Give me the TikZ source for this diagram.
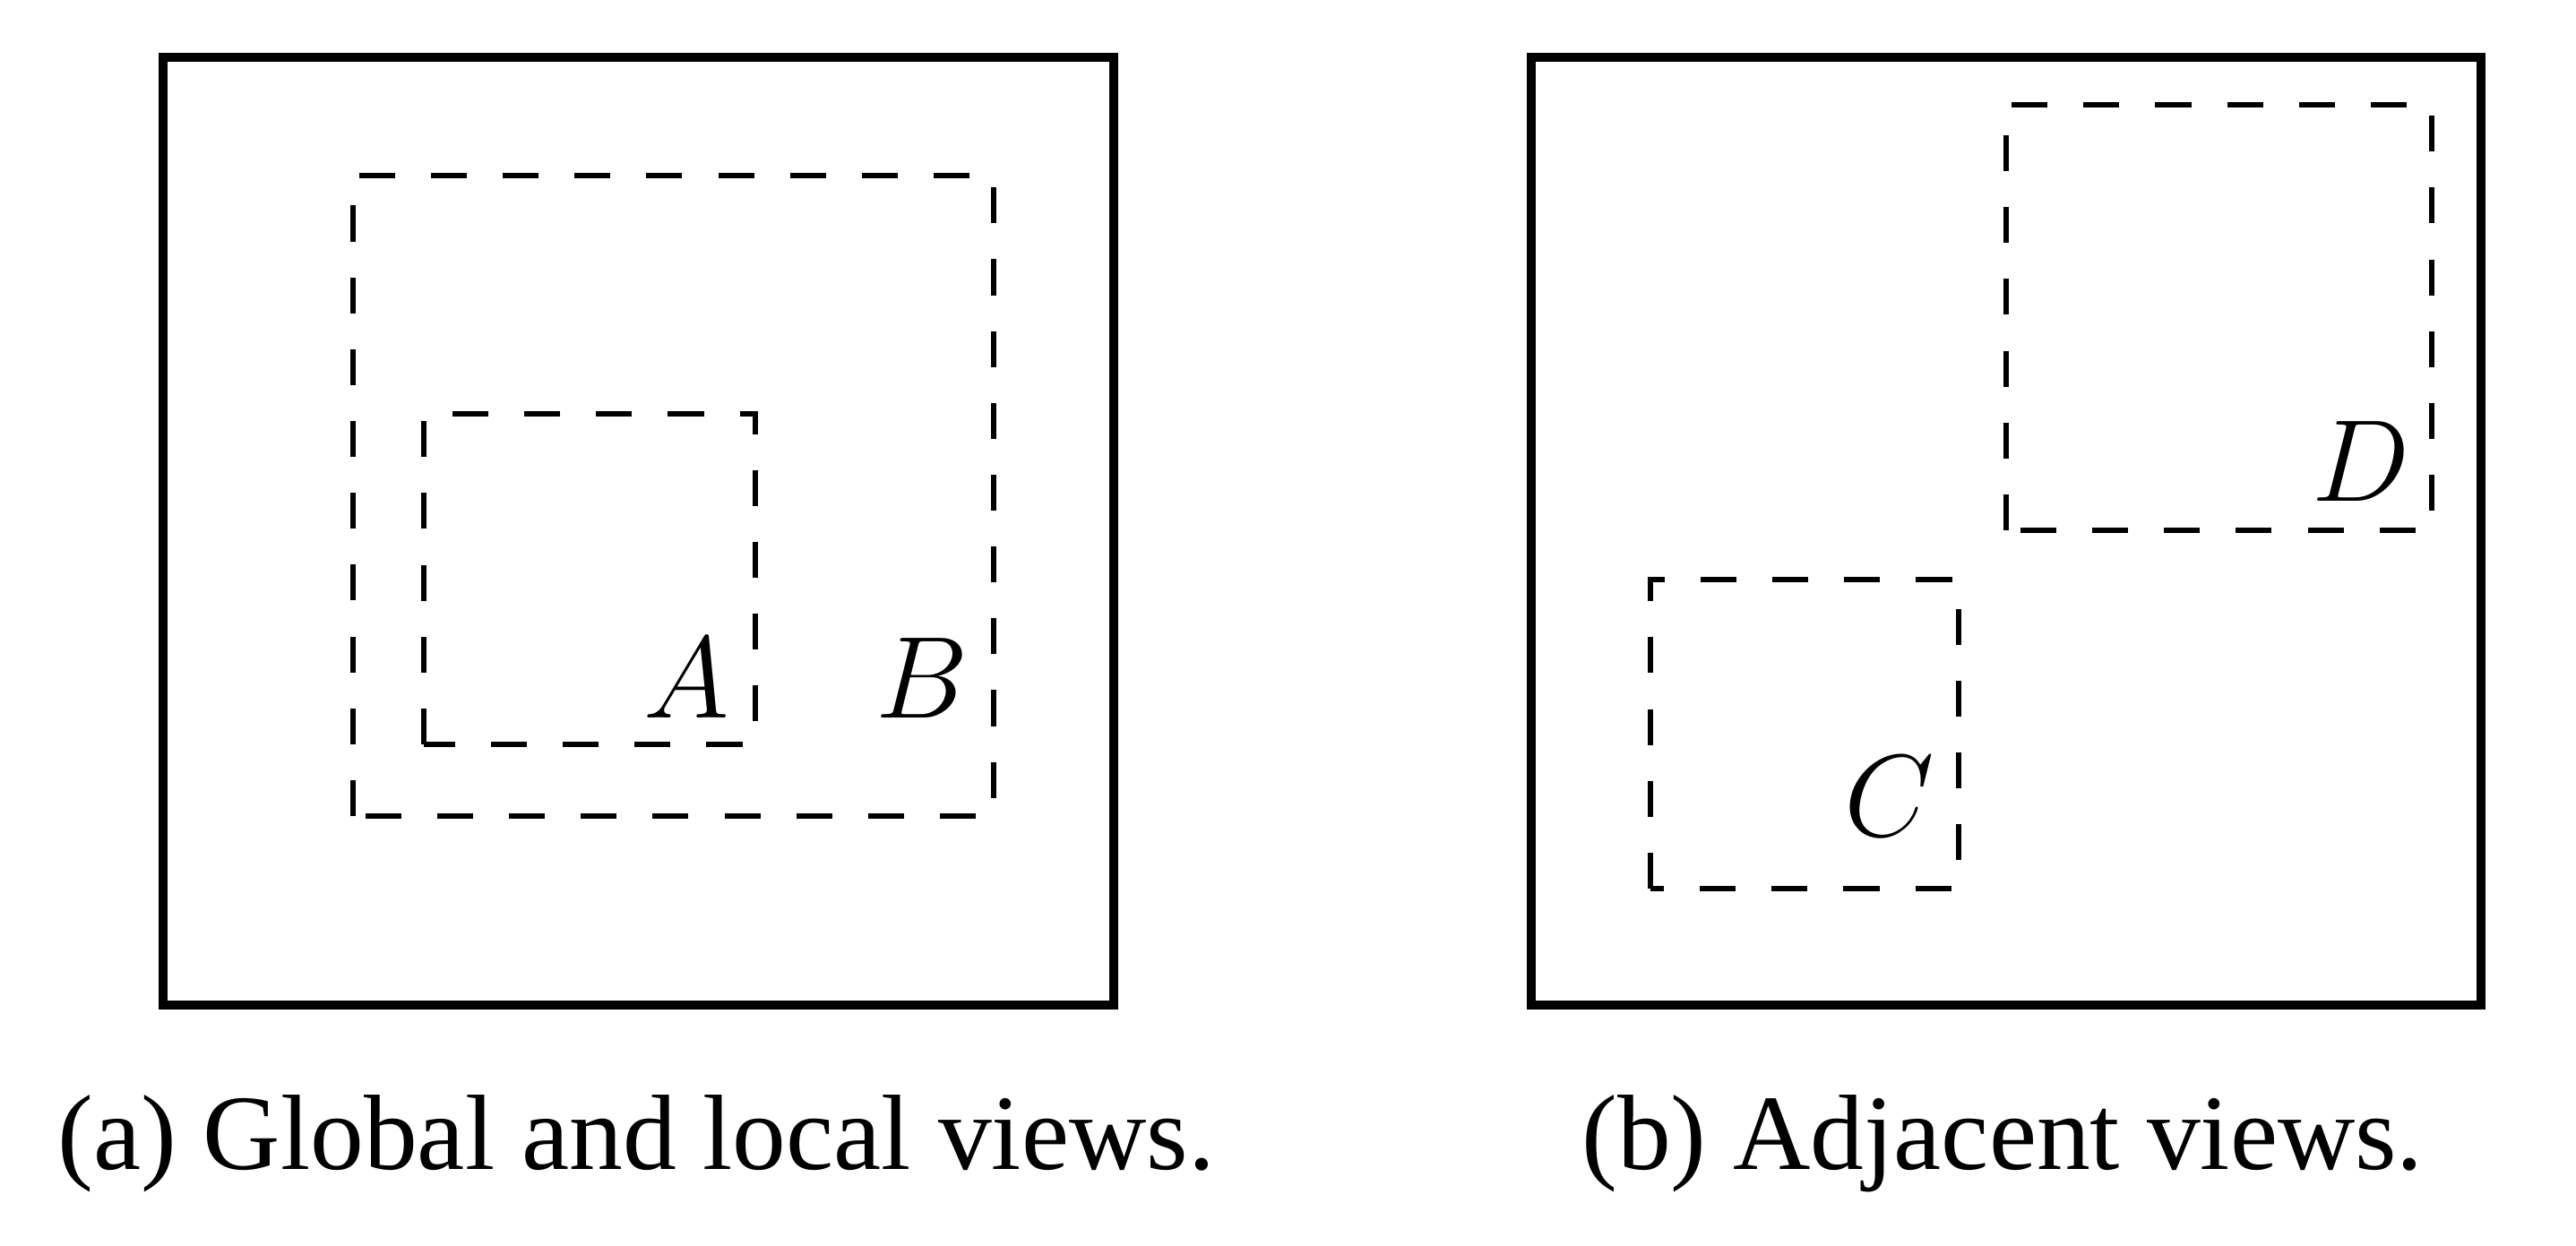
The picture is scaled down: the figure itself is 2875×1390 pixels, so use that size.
\documentclass[tikz,border=0pt]{standalone}
\usepackage{fix-cm}
\usepackage{fontspec}
\setmainfont{Liberation Serif}
\begin{document}
\begin{tikzpicture}[x=0.01cm,y=-0.01cm,
  outer/.style={draw=black,line width=3.1pt,line join=miter},
  view/.style={draw=black,line width=1.8pt,dash pattern=on 11.4pt off 11.4pt},
  lbl/.style={inner sep=0pt,anchor=base east,font=\fontsize{37}{44}\selectfont},
  captext/.style={inner sep=0pt,anchor=base,font=\fontsize{34}{40}\selectfont}]
\useasboundingbox (0,0) rectangle (2875,1390);
% panel (a)
\draw[outer] (182,1122) rectangle (1243,64);
\draw[view] (394,911) rectangle (1109,196);
\draw[view] (473,831) rectangle (843,462);
\node[lbl] (A) at (815,801) {$A$};
\node[lbl] (B) at (1082,801) {$B$};
\node[captext] (capa) at (710,1305) {(a) Global and local views.};
% panel (b)
\draw[outer] (1709,1122) rectangle (2769,64);
\draw[view] (2239,592) rectangle (2714,117);
\draw[view] (1842,992) rectangle (2186,647);
\node[lbl] (D) at (2690,559) {$D$};
\node[lbl] (C) at (2160,933) {$C$};
\node[captext] (capb) at (2235,1305) {(b) Adjacent views.};
\end{tikzpicture}
\end{document}
